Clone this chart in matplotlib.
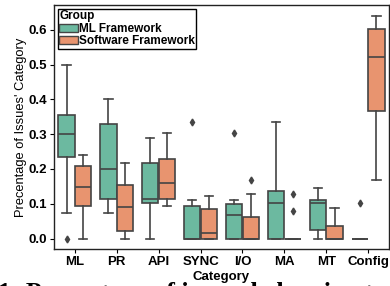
import matplotlib
matplotlib.use("Agg")
import matplotlib.pyplot as plt
from matplotlib.patches import Patch

categories = ["ML", "PR", "API", "SYNC", "I/O", "MA", "MT", "Config"]
groups = ["ML Framework", "Software Framework"]
colors = ["#6cb9a0", "#e8946f"]

# box stats per category: (whislo, q1, med, q3, whishi)
ml_whislo = [0.073, 0.073, 0.0, 0.0, 0.0, 0.0, 0.0, 0.0]
ml_q1 = [0.235, 0.113, 0.101, 0.0, 0.0, 0.0, 0.024, 0.0]
ml_med = [0.30, 0.199, 0.113, 0.0, 0.068, 0.102, 0.102, 0.0]
ml_q3 = [0.356, 0.330, 0.217, 0.094, 0.098, 0.137, 0.110, 0.0]
ml_whishi = [0.50, 0.40, 0.289, 0.111, 0.112, 0.335, 0.144, 0.0]
ml_fliers = [[0.0], [], [], [0.335], [0.302], [], [], [0.102]]

sw_whislo = [0.0, 0.0, 0.093, 0.0, 0.0, 0.0, 0.0, 0.168]
sw_q1 = [0.093, 0.023, 0.115, 0.0, 0.0, 0.0, 0.0, 0.366]
sw_med = [0.149, 0.090, 0.159, 0.015, 0.0, 0.0, 0.0, 0.522]
sw_q3 = [0.208, 0.154, 0.228, 0.085, 0.063, 0.0, 0.037, 0.603]
sw_whishi = [0.239, 0.218, 0.302, 0.122, 0.127, 0.0, 0.087, 0.640]
sw_fliers = [[], [], [], [], [0.168], [0.127, 0.080], [], []]

yticks = [0.0, 0.1, 0.2, 0.3, 0.4, 0.5, 0.6]

fig = plt.figure(figsize=(3.9, 2.86), dpi=100)
ax = fig.add_axes([54/390, 1-249/286, (389-54)/390, (249-5)/286])

edge = "#444444"
def stats(lo, q1, med, q3, hi, fl):
    return [dict(whislo=a, q1=b, med=c, q3=d, whishi=e, fliers=f)
            for a, b, c, d, e, f in zip(lo, q1, med, q3, hi, fl)]

sets = [stats(ml_whislo, ml_q1, ml_med, ml_q3, ml_whishi, ml_fliers),
        stats(sw_whislo, sw_q1, sw_med, sw_q3, sw_whishi, sw_fliers)]
for gi, (st, col) in enumerate(zip(sets, colors)):
    pos = [i - 0.2 + 0.4 * gi for i in range(len(categories))]
    ax.bxp(st, positions=pos, widths=0.39, patch_artist=True,
           boxprops=dict(facecolor=col, edgecolor=edge, linewidth=1.2),
           medianprops=dict(color=edge, linewidth=1.2),
           whiskerprops=dict(color=edge, linewidth=1.2),
           capprops=dict(color=edge, linewidth=1.2),
           flierprops=dict(marker="d", markerfacecolor=edge, markeredgecolor=edge,
                           markersize=3.5),
           manage_ticks=False)

ax.set_xlim(-0.5, len(categories) - 0.5)
ax.set_ylim(-0.03, 0.671)
ax.set_xticks(range(len(categories)))
ax.set_xticklabels(categories, fontfamily="Liberation Sans", fontweight="bold", fontsize=9.5)
ax.set_yticks(yticks)
ax.set_yticklabels([f"{v:.1f}" for v in yticks], fontfamily="Liberation Sans",
                   fontweight="bold", fontsize=9.5)
ax.tick_params(length=3, width=0.8, pad=2)
ax.set_xlabel("Category", fontfamily="Liberation Sans", fontweight="bold", fontsize=9.5, labelpad=2)
ax.set_ylabel("Precentage of Issues' Category", fontfamily="Liberation Sans", fontsize=9.3, labelpad=1)
for s in ax.spines.values():
    s.set_color("#222222")
    s.set_linewidth(1.0)

handles = [Patch(facecolor=c, edgecolor=edge, label=g) for g, c in zip(groups, colors)]
leg = ax.legend(handles=handles, title="Group", loc="upper left", fancybox=False,
                edgecolor="black", framealpha=1,
                prop=dict(family="Liberation Sans", weight="bold", size=8.5),
                title_fontproperties=dict(family="Liberation Sans", weight="bold", size=8.5),
                handlelength=1.6, handleheight=0.7, handletextpad=0.05, labelspacing=0.05,
                borderpad=0.15, borderaxespad=0.3)
leg._legend_box.align = "left"
leg.get_frame().set_linewidth(1.0)

fig.text(-0.005, -0.05, "1: Percentage of issues belonging to", fontfamily="Liberation Serif",
         fontweight="bold", fontsize=18.5, ha="left", va="baseline", zorder=0)

fig.savefig("out.png", dpi=100)
